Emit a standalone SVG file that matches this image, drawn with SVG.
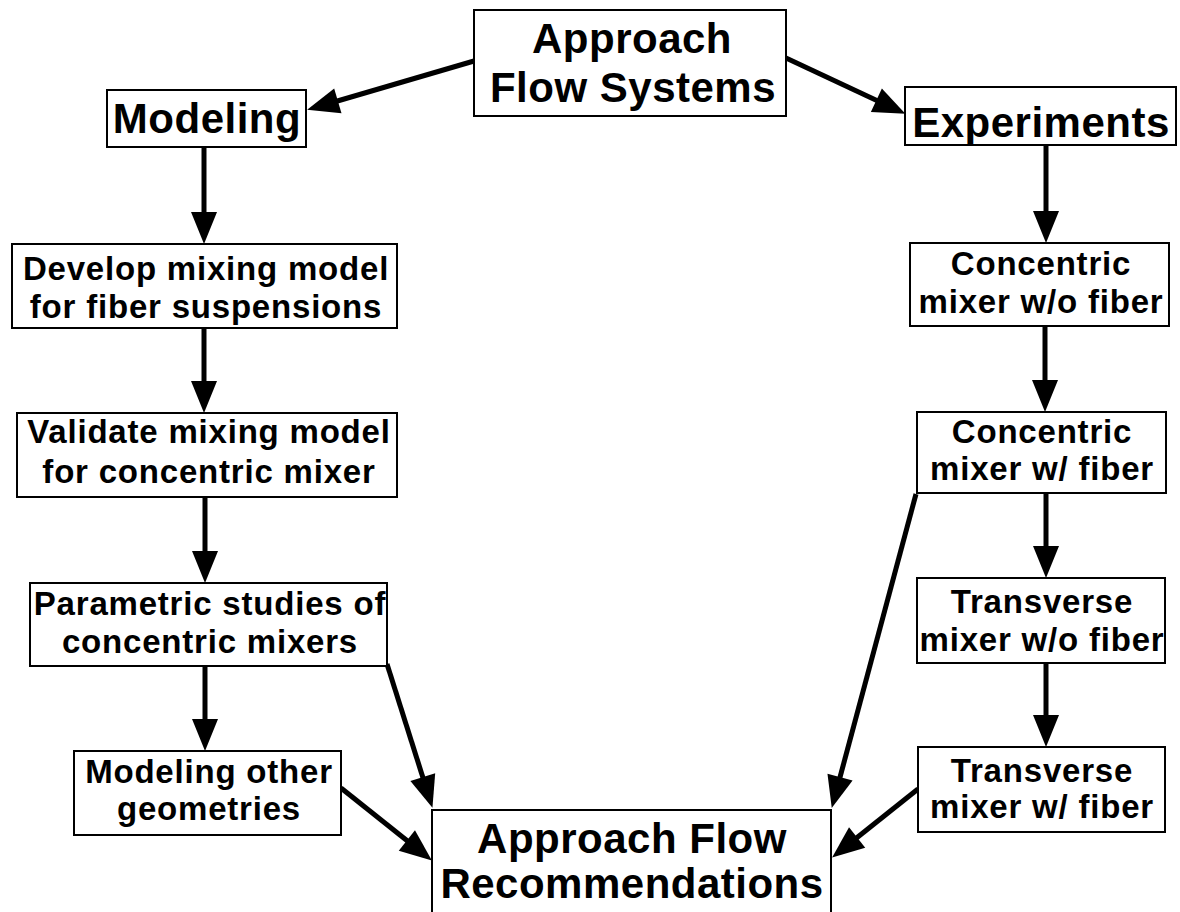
<svg xmlns="http://www.w3.org/2000/svg" width="1180" height="912" viewBox="0 0 1180 912">
<style>
.box{fill:#fff;stroke:#000;stroke-width:2}
.t{font-family:"Liberation Sans",Arial,sans-serif;font-weight:bold;fill:#000;text-anchor:middle}
.big{font-size:42px;letter-spacing:0.5px}
.sm{font-size:33px;letter-spacing:0.8px}
.c{stroke:#000;stroke-width:5;fill:none;marker-end:url(#ah)}
</style>
<defs>
<marker id="ah" markerUnits="userSpaceOnUse" markerWidth="32" markerHeight="26" refX="4" refY="13" orient="auto" overflow="visible">
<path d="M0,0 L32,13 L0,26 Z" fill="#000"/>
</marker>
</defs>
<rect width="1180" height="912" fill="#fff"/>
<g id="connectors">
<line class="c" x1="474" y1="61" x2="334" y2="102"/>
<line class="c" x1="786" y1="58" x2="880" y2="102"/>
<line class="c" x1="204" y1="147" x2="204" y2="216"/>
<line class="c" x1="204" y1="328" x2="204" y2="385"/>
<line class="c" x1="205" y1="497" x2="205" y2="555"/>
<line class="c" x1="205" y1="666" x2="205" y2="723"/>
<line class="c" x1="387" y1="664" x2="424" y2="781"/>
<line class="c" x1="341" y1="788" x2="410" y2="843"/>
<line class="c" x1="1046" y1="145" x2="1046" y2="215"/>
<line class="c" x1="1045" y1="326" x2="1045" y2="384"/>
<line class="c" x1="1046" y1="493" x2="1046" y2="550"/>
<line class="c" x1="1046" y1="663" x2="1046" y2="719"/>
<line class="c" x1="916" y1="494" x2="839" y2="781"/>
<line class="c" x1="918" y1="789" x2="854" y2="840"/>
</g>
<g id="approach-flow-systems">
<rect class="box" x="474" y="10" width="312" height="106"/>
<text class="t big" x="632" y="53">Approach</text>
<text class="t big" x="633" y="102">Flow Systems</text>
</g>
<g id="modeling">
<rect class="box" x="107" y="90" width="199" height="57"/>
<text class="t big" x="207" y="133">Modeling</text>
</g>
<g id="experiments">
<rect class="box" x="905" y="87" width="271" height="58"/>
<text class="t big" x="1041" y="137">Experiments</text>
</g>
<g id="develop">
<rect class="box" x="12" y="244" width="385" height="84"/>
<text class="t sm" x="206" y="280">Develop mixing model</text>
<text class="t sm" x="206" y="318">for fiber suspensions</text>
</g>
<g id="validate">
<rect class="box" x="17" y="413" width="380" height="84"/>
<text class="t sm" x="209" y="443">Validate mixing model</text>
<text class="t sm" x="209" y="483">for concentric mixer</text>
</g>
<g id="parametric">
<rect class="box" x="30" y="583" width="357" height="83"/>
<text class="t sm" x="210" y="615">Parametric studies of</text>
<text class="t sm" x="210" y="653">concentric mixers</text>
</g>
<g id="modeling-other">
<rect class="box" x="74" y="751" width="267" height="84"/>
<text class="t sm" x="209" y="783">Modeling other</text>
<text class="t sm" x="209" y="820">geometries</text>
</g>
<g id="concentric-wo">
<rect class="box" x="910" y="243" width="259" height="83"/>
<text class="t sm" x="1041" y="275">Concentric</text>
<text class="t sm" x="1041" y="313">mixer w/o fiber</text>
</g>
<g id="concentric-w">
<rect class="box" x="917" y="412" width="249" height="81"/>
<text class="t sm" x="1042" y="443">Concentric</text>
<text class="t sm" x="1042" y="480">mixer w/ fiber</text>
</g>
<g id="transverse-wo">
<rect class="box" x="917" y="578" width="248" height="85"/>
<text class="t sm" x="1042" y="613">Transverse</text>
<text class="t sm" x="1042" y="651">mixer w/o fiber</text>
</g>
<g id="transverse-w">
<rect class="box" x="918" y="747" width="247" height="85"/>
<text class="t sm" x="1042" y="782">Transverse</text>
<text class="t sm" x="1042" y="818">mixer w/ fiber</text>
</g>
<g id="recommendations">
<rect class="box" x="432" y="810" width="399" height="120"/>
<text class="t big" x="632" y="853">Approach Flow</text>
<text class="t big" x="632" y="898">Recommendations</text>
</g>
</svg>
